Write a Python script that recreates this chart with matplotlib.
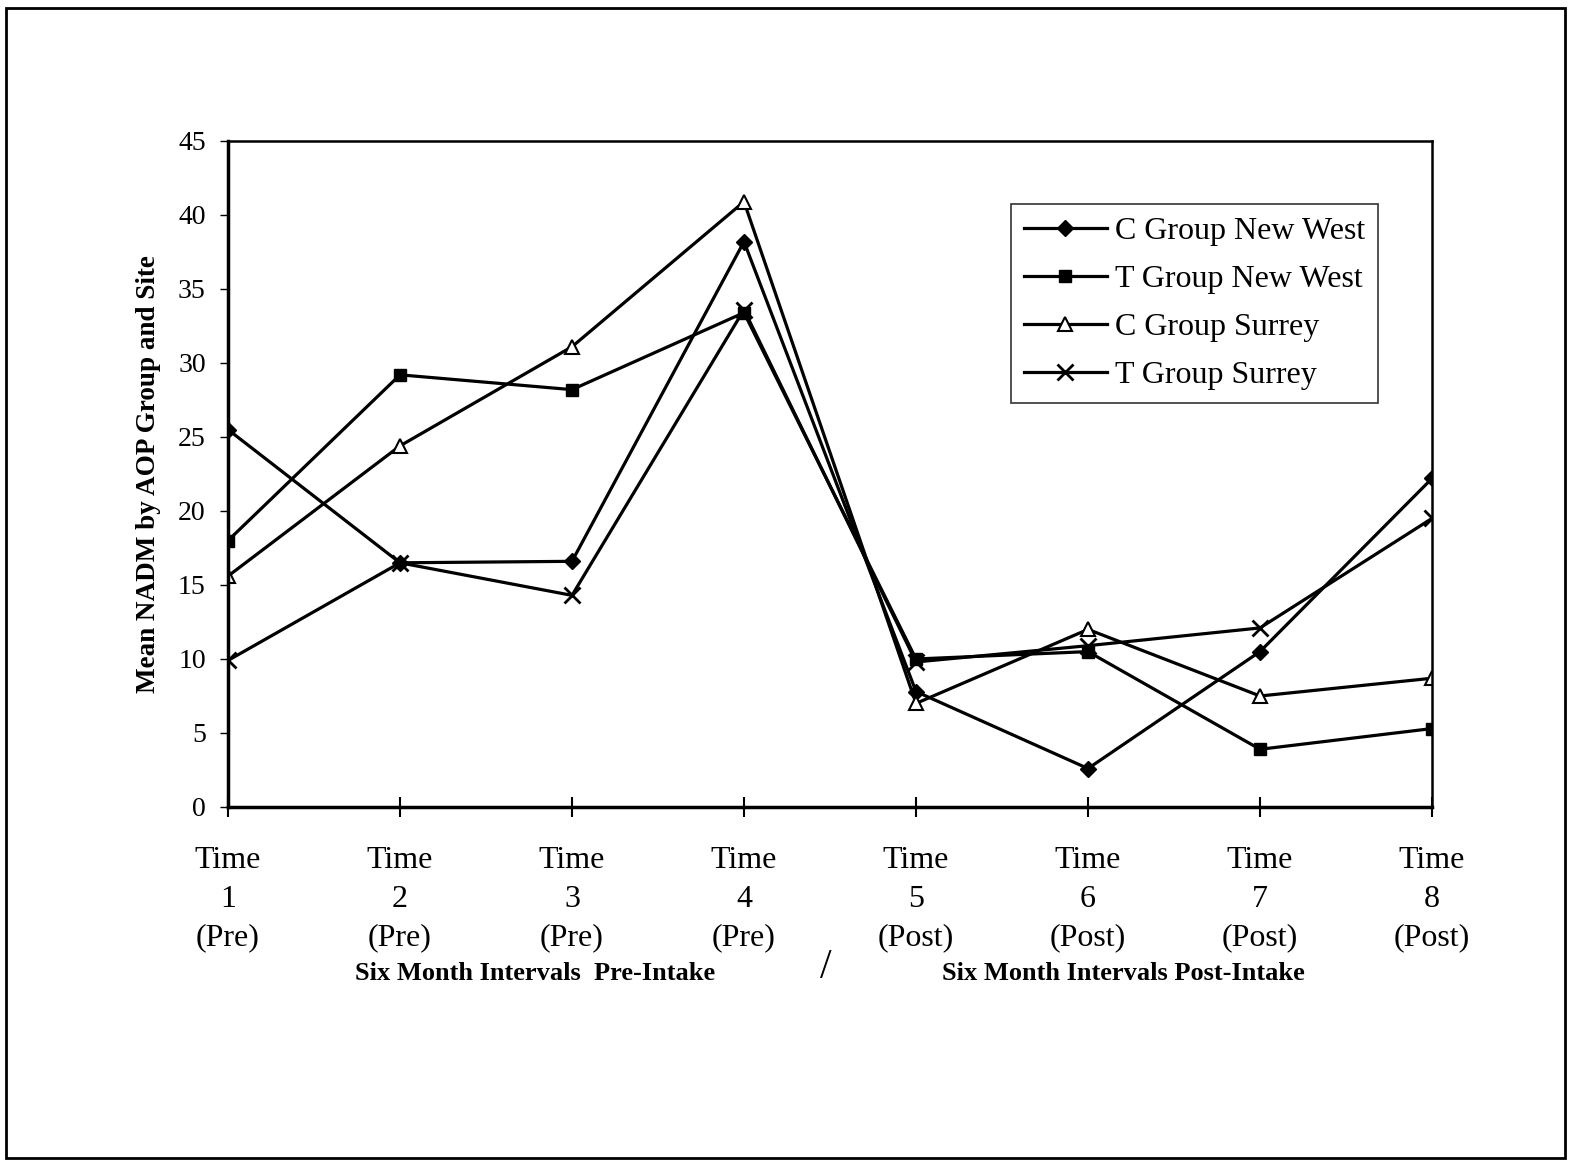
import matplotlib
matplotlib.use("Agg")
import matplotlib.pyplot as plt
from matplotlib.patches import Rectangle

plt.rcParams['font.family'] = ['Liberation Serif', 'DejaVu Serif']

times = [1, 2, 3, 4, 5, 6, 7, 8]
phases = ['Pre', 'Pre', 'Pre', 'Pre', 'Post', 'Post', 'Post', 'Post']

c_new_west = [25.5, 16.5, 16.6, 38.2, 7.8, 2.6, 10.5, 22.2]
t_new_west = [18.0, 29.2, 28.2, 33.4, 10.0, 10.5, 3.9, 5.3]
c_surrey = [15.6, 24.4, 31.1, 40.9, 7.0, 12.0, 7.5, 8.7]
t_surrey = [9.9, 16.5, 14.3, 33.6, 9.8, 10.9, 12.1, 19.5]

series = [
    ("C Group New West", c_new_west, dict(marker='D', markersize=8, markerfacecolor='black')),
    ("T Group New West", t_new_west, dict(marker='s', markersize=9, markerfacecolor='black')),
    ("C Group Surrey", c_surrey, dict(marker='^', markersize=10, markerfacecolor='white', markeredgewidth=1.5)),
    ("T Group Surrey", t_surrey, dict(marker='x', markersize=11, markeredgewidth=2)),
]

fig = plt.figure(figsize=(15.72, 11.62), dpi=100)
ax = fig.add_axes([228 / 1572, 1 - 807 / 1162, (1432 - 228) / 1572, (807 - 141) / 1162])

for name, vals, style in series:
    ax.plot(times, vals, color='black', linewidth=2.3, label=name, **style)

ax.set_xlim(1, 8)
ax.set_ylim(0, 45)
ax.set_yticks(range(0, 46, 5))
ax.set_xticks(times)
ax.set_xticklabels(["Time\n%d\n(%s)" % (t, p) for t, p in zip(times, phases)],
                   fontsize=23, linespacing=1.45)
ax.tick_params(axis='x', direction='inout', length=14, width=1.5, pad=21)
ax.tick_params(axis='y', direction='out', length=6, width=1, labelsize=20, pad=10)
for side in ['left', 'bottom']:
    ax.spines[side].set_linewidth(2.5)
for side in ['top', 'right']:
    ax.spines[side].set_linewidth(1.8)

ax.set_ylabel("Mean NADM by AOP Group and Site", fontsize=19.5, fontweight='bold', labelpad=12)

leg = ax.legend(loc='upper right', bbox_to_anchor=(0.955, 0.905), fontsize=23,
                frameon=True, fancybox=False, edgecolor='black', handlelength=2.6,
                handletextpad=0.25, borderpad=0.4, labelspacing=0.58, borderaxespad=0)
leg.get_frame().set_linewidth(1.2)

fig.text(535 / 1572, 1 - 973 / 1162, "Six Month Intervals  Pre-Intake", fontsize=19,
         fontweight='bold', ha='center', va='center')
fig.text(1123 / 1572, 1 - 973 / 1162, "Six Month Intervals Post-Intake", fontsize=19,
         fontweight='bold', ha='center', va='center')
fig.text(826 / 1572, 1 - 968 / 1162, "/", fontsize=30, ha='center', va='center')

# outer frame around the whole chart
fig.patches.append(Rectangle((6 / 1572, 1 - 1158 / 1162), 1559 / 1572, 1150 / 1162,
                             transform=fig.transFigure, fill=False, edgecolor='black',
                             linewidth=2))

fig.savefig("out.png", dpi=100)
